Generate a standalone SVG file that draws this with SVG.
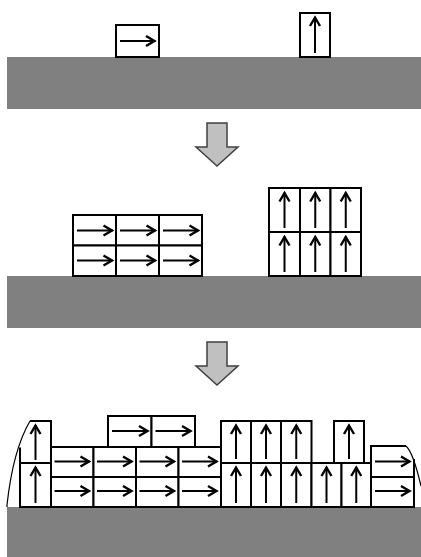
<svg xmlns="http://www.w3.org/2000/svg" width="421" height="557" viewBox="0 0 421 557">
<style>
.ground{fill:#808080}
.box{fill:#fff;stroke:#000;stroke-width:2}
.edge{fill:none;stroke:#000;stroke-width:2}
.arr{stroke:#000;stroke-width:2;marker-end:url(#ah)}
.hull{fill:none;stroke:#000;stroke-width:1.2}
.big{fill:#c0c0c0;stroke:#404040;stroke-width:1.5;stroke-linejoin:miter}
</style>
<defs>
<marker id="ah" viewBox="-12 -8 14 16" refX="0" refY="0" markerWidth="14" markerHeight="16" markerUnits="userSpaceOnUse" orient="auto">
<path d="M-9,-5 L-0.5,0 L-9,5" fill="none" stroke="#000" stroke-width="2.4"/>
</marker>
</defs>
<rect width="421" height="557" fill="#fff"/>

<!-- Stage 1 -->
<g id="ground-1"><rect class="ground" x="7" y="57" width="414" height="52"/></g>
<g id="box-h-single">
<rect class="box" x="116" y="25" width="43" height="32"/>
<line class="arr" x1="120" y1="41" x2="155" y2="41"/>
</g>
<g id="box-v-single">
<rect class="box" x="300" y="13" width="30" height="44"/>
<line class="arr" x1="315" y1="53" x2="315" y2="17"/>
</g>

<!-- Stage 2 -->
<g id="ground-2"><rect class="ground" x="7" y="276" width="414" height="52"/></g>
<g id="stack-h">
<rect class="box" x="73" y="215" width="43" height="30.5"/>
<rect class="box" x="116" y="215" width="43" height="30.5"/>
<rect class="box" x="159" y="215" width="43" height="30.5"/>
<rect class="box" x="73" y="245.5" width="43" height="30.5"/>
<rect class="box" x="116" y="245.5" width="43" height="30.5"/>
<rect class="box" x="159" y="245.5" width="43" height="30.5"/>
<line class="arr" x1="77" y1="230.5" x2="112.5" y2="230.5"/>
<line class="arr" x1="120" y1="230.5" x2="155.5" y2="230.5"/>
<line class="arr" x1="163" y1="230.5" x2="198.5" y2="230.5"/>
<line class="arr" x1="77" y1="260.5" x2="112.5" y2="260.5"/>
<line class="arr" x1="120" y1="260.5" x2="155.5" y2="260.5"/>
<line class="arr" x1="163" y1="260.5" x2="198.5" y2="260.5"/>
</g>
<g id="stack-v">
<rect class="box" x="269" y="188" width="31" height="44"/>
<rect class="box" x="300" y="188" width="30.5" height="44"/>
<rect class="box" x="330.5" y="188" width="30.5" height="44"/>
<rect class="box" x="269" y="232" width="31" height="44"/>
<rect class="box" x="300" y="232" width="30.5" height="44"/>
<rect class="box" x="330.5" y="232" width="30.5" height="44"/>
<line class="arr" x1="284.5" y1="228" x2="284.5" y2="192.5"/>
<line class="arr" x1="315.25" y1="228" x2="315.25" y2="192.5"/>
<line class="arr" x1="345.75" y1="228" x2="345.75" y2="192.5"/>
<line class="arr" x1="284.5" y1="272" x2="284.5" y2="236.5"/>
<line class="arr" x1="315.25" y1="272" x2="315.25" y2="236.5"/>
<line class="arr" x1="345.75" y1="272" x2="345.75" y2="236.5"/>
</g>

<!-- Stage 3 -->
<g id="ground-3"><rect class="ground" x="7" y="507" width="414" height="50"/></g>
<g id="bow-left">
<path class="hull" d="M7,507 L7,505 Q13,450 30,421"/>
<path class="edge" d="M30,421 H51 V507 H20 V447.5 M20,463 H51"/>
<line class="arr" x1="35.5" y1="460" x2="35.5" y2="425"/>
<line class="arr" x1="35.5" y1="503" x2="35.5" y2="467"/>
</g>
<g id="rows-h">
<rect class="box" x="51" y="447" width="42.5" height="30"/>
<rect class="box" x="93.5" y="447" width="42.5" height="30"/>
<rect class="box" x="136" y="447" width="42.5" height="30"/>
<rect class="box" x="178.5" y="447" width="42.5" height="30"/>
<rect class="box" x="51" y="477" width="42.5" height="30"/>
<rect class="box" x="93.5" y="477" width="42.5" height="30"/>
<rect class="box" x="136" y="477" width="42.5" height="30"/>
<rect class="box" x="178.5" y="477" width="42.5" height="30"/>
<line class="arr" x1="54.5" y1="461.5" x2="89.5" y2="461.5"/>
<line class="arr" x1="97" y1="461.5" x2="132" y2="461.5"/>
<line class="arr" x1="139.5" y1="461.5" x2="174.5" y2="461.5"/>
<line class="arr" x1="182" y1="461.5" x2="217" y2="461.5"/>
<line class="arr" x1="54.5" y1="491" x2="89.5" y2="491"/>
<line class="arr" x1="97" y1="491" x2="132" y2="491"/>
<line class="arr" x1="139.5" y1="491" x2="174.5" y2="491"/>
<line class="arr" x1="182" y1="491" x2="217" y2="491"/>
</g>
<g id="top-h">
<rect class="box" x="108" y="416" width="43.5" height="31"/>
<rect class="box" x="151.5" y="416" width="43.5" height="31"/>
<line class="arr" x1="112" y1="431" x2="148" y2="431"/>
<line class="arr" x1="155.5" y1="431" x2="191" y2="431"/>
</g>
<g id="stack-v-3">
<rect class="box" x="221" y="421" width="30" height="42"/>
<rect class="box" x="251" y="421" width="30" height="42"/>
<rect class="box" x="281" y="421" width="30.5" height="42"/>
<rect class="box" x="334" y="421" width="30" height="42"/>
<rect class="box" x="221" y="463" width="30" height="44"/>
<rect class="box" x="251" y="463" width="30" height="44"/>
<rect class="box" x="281" y="463" width="30.5" height="44"/>
<rect class="box" x="311.5" y="463" width="30" height="44"/>
<rect class="box" x="341.5" y="463" width="29.5" height="44"/>
<line class="arr" x1="236" y1="459" x2="236" y2="425"/>
<line class="arr" x1="266" y1="459" x2="266" y2="425"/>
<line class="arr" x1="296.25" y1="459" x2="296.25" y2="425"/>
<line class="arr" x1="349" y1="459" x2="349" y2="425"/>
<line class="arr" x1="236" y1="503" x2="236" y2="467"/>
<line class="arr" x1="266" y1="503" x2="266" y2="467"/>
<line class="arr" x1="296.25" y1="503" x2="296.25" y2="467"/>
<line class="arr" x1="326.5" y1="503" x2="326.5" y2="467"/>
<line class="arr" x1="356.25" y1="503" x2="356.25" y2="467"/>
</g>
<g id="bow-right">
<path class="hull" d="M406,446 Q413,452 421,486"/>
<path class="edge" d="M414,459 V507 H371 V446 H406 M371,477 H414"/>
<line class="arr" x1="375" y1="461.5" x2="410" y2="461.5"/>
<line class="arr" x1="375" y1="491" x2="410" y2="491"/>
</g>

<g id="connectors">
<polygon class="big" points="207,123 227,123 227,147 238,147 217,166 196,147 207,147"/>
<polygon class="big" points="207,342 227,342 227,366 238,366 217,385 196,366 207,366"/>
</g>
</svg>
